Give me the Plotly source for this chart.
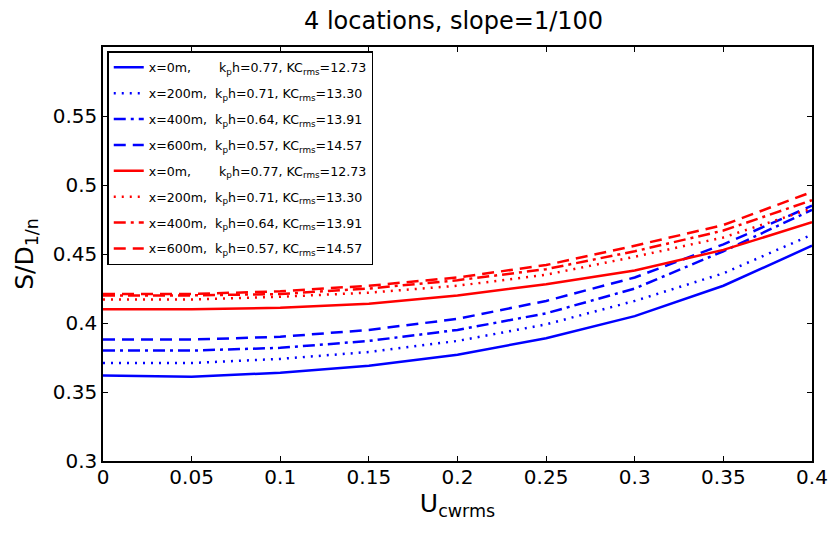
import plotly.graph_objects as go

u = [0, 0.05, 0.1, 0.15, 0.2, 0.25, 0.3, 0.35, 0.4]

blue_0m = [0.362, 0.361, 0.364, 0.369, 0.377, 0.389, 0.405, 0.427, 0.456]
blue_200m = [0.371, 0.371, 0.374, 0.379, 0.387, 0.399, 0.416, 0.436, 0.464]
blue_400m = [0.380, 0.380, 0.382, 0.387, 0.395, 0.407, 0.425, 0.452, 0.482]
blue_600m = [0.388, 0.388, 0.390, 0.395, 0.403, 0.416, 0.433, 0.457, 0.485]
red_0m = [0.410, 0.410, 0.411, 0.414, 0.420, 0.428, 0.438, 0.453, 0.473]
red_200m = [0.417, 0.417, 0.419, 0.422, 0.427, 0.435, 0.448, 0.462, 0.483]
red_400m = [0.420, 0.420, 0.421, 0.425, 0.431, 0.439, 0.452, 0.467, 0.489]
red_600m = [0.421, 0.421, 0.423, 0.427, 0.433, 0.442, 0.456, 0.471, 0.495]

labels = [
    "x=0m,&nbsp;&nbsp;&nbsp;&nbsp;&nbsp;&nbsp;&nbsp;k<sub>p</sub>h=0.77, KC<sub>rms</sub>=12.73",
    "x=200m,&nbsp;&nbsp;k<sub>p</sub>h=0.71, KC<sub>rms</sub>=13.30",
    "x=400m,&nbsp;&nbsp;k<sub>p</sub>h=0.64, KC<sub>rms</sub>=13.91",
    "x=600m,&nbsp;&nbsp;k<sub>p</sub>h=0.57, KC<sub>rms</sub>=14.57",
]

x_ticks = [0, 0.05, 0.1, 0.15, 0.2, 0.25, 0.3, 0.35, 0.4]
x_ticktext = ["0", "0.05", "0.1", "0.15", "0.2", "0.25", "0.3", "0.35", "0.4"]
y_ticks = [0.3, 0.35, 0.4, 0.45, 0.5, 0.55, 0.6]
y_ticktext = ["0.3", "0.35", "0.4", "0.45", "0.5", "0.55", ""]

dashes = ["solid", "2px,6px", "12px,5px,3px,5px", "12px,7px"]
series = [
    (blue_0m, "#0000ff", 0), (blue_200m, "#0000ff", 1), (blue_400m, "#0000ff", 2), (blue_600m, "#0000ff", 3),
    (red_0m, "#ff0000", 0), (red_200m, "#ff0000", 1), (red_400m, "#ff0000", 2), (red_600m, "#ff0000", 3),
]

fig = go.Figure()
for i, (ys, col, k) in enumerate(series):
    fig.add_trace(go.Scatter(
        x=u, y=ys, mode="lines", name=labels[k], legendgroup=f"g{i}",
        line=dict(color=col, width=2.5, dash=dashes[k]),
    ))

font_family = "DejaVu Sans, sans-serif"
fig.update_layout(
    width=840, height=533,
    margin=dict(l=103, r=17, t=47, b=72),
    paper_bgcolor="white", plot_bgcolor="white",
    font=dict(family=font_family, color="black", size=20),
    title=dict(text="4 locations, slope=1/100", x=(459 - 103) / 720, xref="paper", y=1 - 21 / 533, yref="container",
               xanchor="center", yanchor="middle", font=dict(size=24)),
    showlegend=True,
    legend=dict(
        x=0.006, y=0.99, xanchor="left", yanchor="top",
        bordercolor="black", borderwidth=1.5, bgcolor="white",
        font=dict(size=12.6, family=font_family),
        tracegroupgap=6.5, itemwidth=30,
    ),
    xaxis=dict(
        range=[0, 0.4], tickvals=x_ticks, ticktext=x_ticktext,
        ticks="inside", ticklen=5, tickcolor="black", mirror="ticks",
        showline=True, linecolor="black", linewidth=1.5, showgrid=False, zeroline=False,
        tickfont=dict(size=20), ticklabelstandoff=-3,
        title=dict(text="U<sub>cwrms</sub>", font=dict(size=25), standoff=4),
    ),
    yaxis=dict(
        range=[0.3, 0.6], tickvals=y_ticks, ticktext=y_ticktext,
        ticks="inside", ticklen=5, tickcolor="black", mirror="ticks",
        showline=True, linecolor="black", linewidth=1.5, showgrid=False, zeroline=False,
        tickfont=dict(size=20),
        title=dict(text="S/D<sub>1/n</sub>", font=dict(size=25), standoff=12),
    ),
)

fig.write_html("out.html")
